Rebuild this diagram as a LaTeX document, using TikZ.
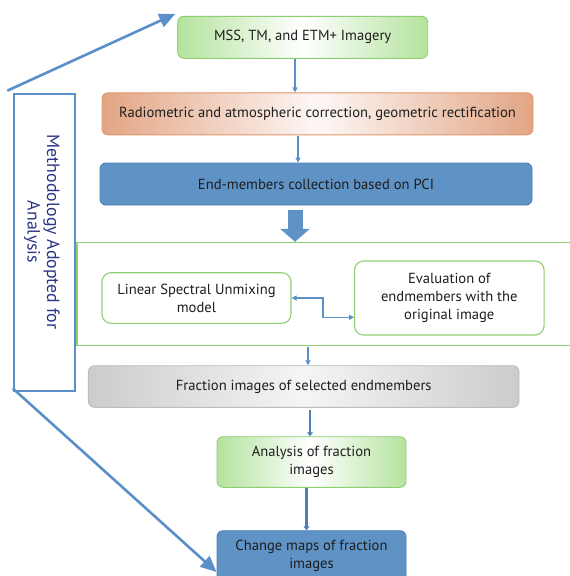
\documentclass[tikz,border=0pt]{standalone}
\usepackage{fontspec}
\setmainfont{PT Sans}
\usetikzlibrary{arrows.meta,positioning}
\definecolor{lnblue}{HTML}{5B8FC9}
\definecolor{navy}{HTML}{2B3585}
\definecolor{gedge}{HTML}{B4E39E}
\definecolor{gline}{HTML}{8ECF72}
\definecolor{oedge}{HTML}{E2A584}
\definecolor{oline}{HTML}{E0956C}
\definecolor{bfill}{HTML}{5F92C5}
\definecolor{bline}{HTML}{4C7FB4}
\definecolor{gyedge}{HTML}{CCCCCC}
\definecolor{gyline}{HTML}{BDBDBD}
\definecolor{txt}{HTML}{1E1E1E}
\tikzset{
  box/.style={rounded corners=6pt, line width=0.9pt, align=center, text=txt, inner sep=2pt, font=\fontsize{14.6}{18}\selectfont},
  greenbox/.style={box, draw=gline, left color=gedge, right color=gedge, middle color=white},
  orangebox/.style={box, draw=oline, left color=oedge, right color=oedge, middle color=oedge!8},
  bluebox/.style={box, draw=bline, fill=bfill},
  graybox/.style={box, draw=gyline, left color=gyedge, right color=gyedge, middle color=white!96!black},
  whitebox/.style={box, draw=gline, fill=white, line width=1.1pt, rounded corners=9pt},
  thin/.style={draw=lnblue, line width=1.1pt, -{Triangle[length=5pt,width=5pt]}},
  thick/.style={draw=bline, line width=2.6pt, -{Triangle[length=4pt,width=6pt]}},
  diag/.style={draw=lnblue, line width=2.6pt, -{Triangle[length=16pt,width=14pt]}},
}
\begin{document}
\begin{tikzpicture}[x=1pt,y=-1pt]
\useasboundingbox (0,0) rectangle (570,576);
% nodes
\node[greenbox, minimum width=250pt, minimum height=42pt] (b1) at (302.7,37.3) {MSS, TM, and ETM+ Imagery};
\node[orangebox, minimum width=431pt, minimum height=42pt] (b2) at (317.5,113.8) {Radiometric and atmospheric correction, geometric rectification};
\node[bluebox, minimum width=432pt, minimum height=42pt] (b3) at (316,184) {End-members collection based on PCI};
\node[draw=gline, line width=1.1pt, minimum width=510pt, minimum height=102.7pt] (big) at (332,293.7) {};
\node[whitebox, minimum width=189pt, minimum height=50.6pt] (lsu) at (196.5,298) {Linear Spectral Unmixing\\model};
\node[whitebox, minimum width=189.5pt, minimum height=74pt] (ev) at (449.3,298) {Evaluation of\\endmembers with the\\original image};
\node[graybox, minimum width=430.6pt, minimum height=41.6pt] (fr) at (303.7,386.5) {Fraction images of selected endmembers};
\node[greenbox, minimum width=189pt, minimum height=50.6pt] (an) at (311.5,462) {Analysis of fraction\\images};
\node[bluebox, minimum width=189pt, minimum height=50.6pt] (ch) at (311.5,556) {Change maps of fraction\\images};
\node[draw=lnblue, line width=2.6pt, minimum width=61pt, minimum height=297pt] (vb) at (44.5,242.5) {};
\node[rotate=-90, align=center, text=navy, font=\fontsize{17.8}{19.5}\selectfont] (vt) at (42,232) {Methodology Adopted for\\Analysis};
% coordinates for connector ends
\coordinate (a1) at (295,58.5);
\coordinate (a2) at (298,135.5);
\coordinate (a3) at (295,210);
\coordinate (a4) at (308,346.5);
\coordinate (a5) at (310,410);
\coordinate (a6) at (306.5,488);
\coordinate (d1) at (7.3,90.7);
\coordinate (d2) at (12.7,388.3);
\coordinate (e1) at (323,298);
\coordinate (e2) at (323,317.3);
% connectors
\draw[thin] (a1) -- (a1 |- b2.north);
\draw[thin] (a2) -- (a2 |- b3.north);
\draw[draw=bfill, line width=15pt, -{Triangle[length=13pt,width=29pt]}] (a3) -- (a3 |- big.north);
\draw[thin] (a4) -- (a4 |- fr.north);
\draw[thick] (a5) -- (a5 |- an.north);
\draw[thick] (a6) -- (a6 |- ch.north);
\draw[draw=lnblue, line width=1.1pt, {Triangle[length=5pt,width=5pt]}-{Triangle[length=5pt,width=5pt]}] (lsu.east) -- (e1) -- (e2) -- (e2 -| ev.west);
\draw[diag] (d1) -- ([xshift=-2pt,yshift=2pt]b1.north west);
\draw[diag] (d2) -- ([yshift=-16pt]ch.west);
\end{tikzpicture}
\end{document}
